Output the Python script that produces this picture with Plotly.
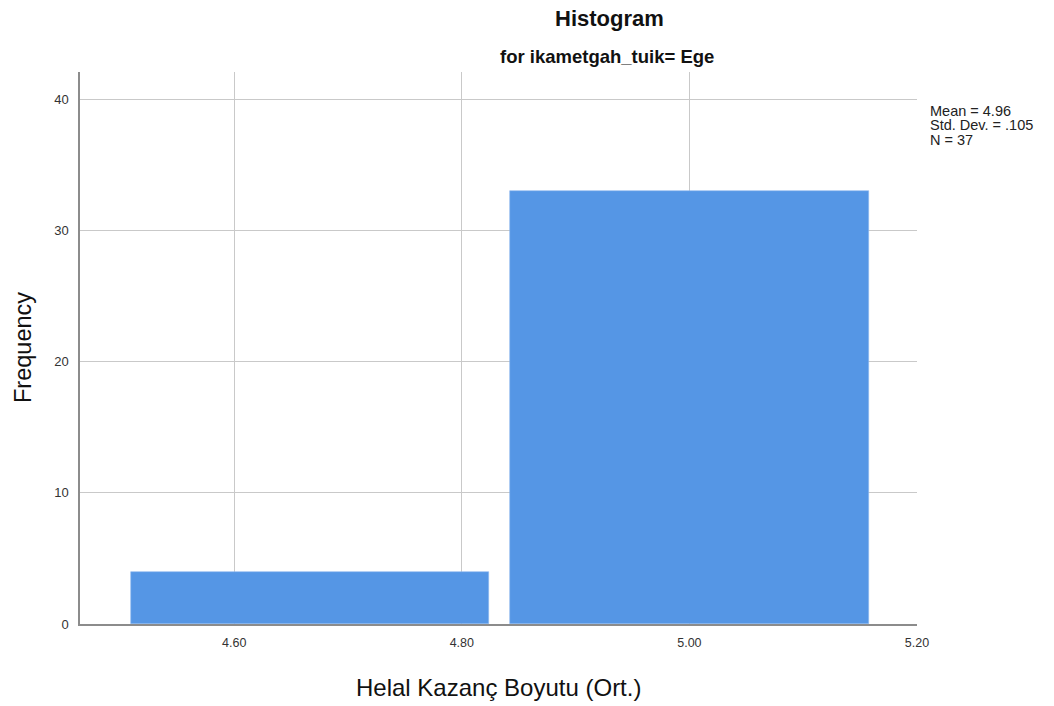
import plotly.graph_objects as go

bin_centers = [4.6667, 5.0]
counts = [4, 33]
x_ticks = [4.6, 4.8, 5.0, 5.2]
x_tick_labels = ["4.60", "4.80", "5.00", "5.20"]
y_ticks = [0, 10, 20, 30, 40]
stats_lines = ["Mean = 4.96", "Std. Dev. = .105", "N = 37"]

FONT = "Liberation Sans, Arial, sans-serif"

L, T, PW, PH = 80, 72, 837, 552
W, H = 1054, 706


def px(x):
    return (x - L) / PW


def py(y):
    return (T + PH - y) / PH


fig = go.Figure()
fig.add_trace(go.Bar(
    x=bin_centers, y=counts, width=0.315,
    marker=dict(color="#5596E5", line=dict(color="#8fb8ee", width=0.6)),
    hoverinfo="x+y",
))

fig.update_layout(
    width=W, height=H,
    margin=dict(l=L, r=W - L - PW, t=T, b=H - T - PH, pad=0),
    paper_bgcolor="white", plot_bgcolor="white",
    showlegend=False,
    font=dict(family=FONT, color="#222"),
    xaxis=dict(range=[4.4645, 5.2], tickvals=x_ticks, ticktext=x_tick_labels,
               showgrid=True, gridcolor="#c9c9c9", gridwidth=1,
               showline=True, linecolor="#8c8c8c", linewidth=1.5,
               zeroline=False, ticks="", tickfont=dict(size=12.5, color="#333"),
               ticklabelstandoff=6),
    yaxis=dict(range=[0, 42.06], tickvals=y_ticks,
               showgrid=True, gridcolor="#c9c9c9", gridwidth=1,
               showline=True, linecolor="#8c8c8c", linewidth=1.5,
               zeroline=False, ticks="", tickfont=dict(size=13, color="#333"),
               ticklabelstandoff=7),
    bargap=0,
)

ann = [
    dict(text="<b>Histogram</b>", x=px(609), y=py(18), font=dict(size=22, color="#111")),
    dict(text="<b>for ikametgah_tuik= Ege</b>", x=px(607), y=py(57),
         font=dict(size=18.5, color="#111")),
    dict(text="Helal Kazanç Boyutu (Ort.)", x=px(498), y=py(687),
         font=dict(size=24, color="#111")),
    dict(text="Frequency", x=px(23), y=py(347), textangle=-90,
         font=dict(size=23.5, color="#111")),
]
for a in ann:
    fig.add_annotation(xref="paper", yref="paper", showarrow=False, borderpad=0,
                       xanchor="center", yanchor="middle", **a)

for i, line in enumerate(stats_lines):
    fig.add_annotation(xref="paper", yref="paper", x=px(929), y=py(110.5 + 14.7 * i),
                       xanchor="left", yanchor="middle", align="left", showarrow=False,
                       borderpad=0, text=line, font=dict(size=14.5, color="#222"))

fig.write_html("out.html", config={"displayModeBar": False},
               post_script="document.body.style.margin='0';")
